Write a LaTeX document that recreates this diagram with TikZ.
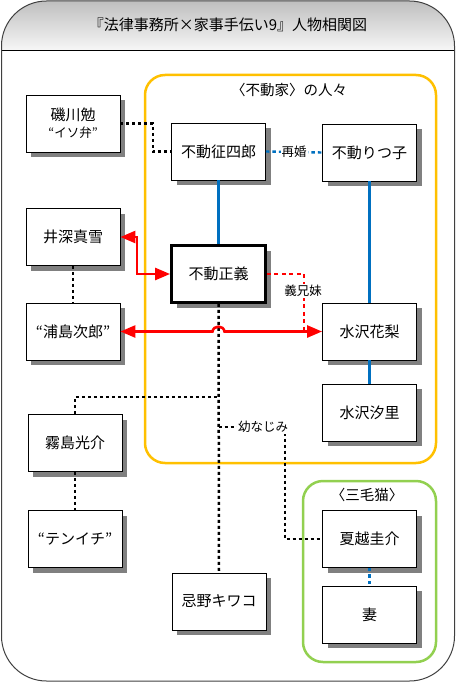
\documentclass[tikz,border=0pt]{standalone}
\usepackage{fontspec}
\setmainfont{Noto Sans CJK JP}
\usetikzlibrary{shadows,arrows.meta}
\definecolor{fgold}{RGB}{255,192,0}
\definecolor{mgreen}{RGB}{146,208,80}
\definecolor{kblue}{RGB}{0,112,192}
\definecolor{frm}{RGB}{64,64,64}
\tikzset{
  person/.style={draw=black, line width=0.8pt, fill=white, minimum width=94pt, minimum height=57pt, inner sep=0pt, align=center,
    font=\fontsize{15}{18}\selectfont,
    drop shadow={shadow xshift=5pt, shadow yshift=-5pt, fill=black!50, opacity=1}},
  mainperson/.style={person, line width=2.8pt},
  grp/.style={rounded corners=20pt, line width=2.5pt},
  blk/.style={draw=black, line width=2.5pt, dash pattern=on 3pt off 3pt},
  bluedot/.style={draw=kblue, line width=2.4pt, dash pattern=on 3.5pt off 3pt},
  bluesolid/.style={draw=kblue, line width=2.4pt},
  redline/.style={draw=red, line width=2.6pt, {Triangle[length=15pt,width=12pt]}-{Triangle[length=15pt,width=12pt]}},
  reddash/.style={draw=red, line width=2.4pt, dash pattern=on 4pt off 3.5pt},
  lbl/.style={fill=white, inner sep=1pt, font=\fontsize{12.5}{14}\selectfont},
  grplbl/.style={inner sep=0pt, font=\fontsize{14.5}{16}\selectfont},
}
\begin{document}
\begin{tikzpicture}[x=1pt,y=-1pt]
\useasboundingbox (0,0) rectangle (456,682);
% outer frame with title band
\begin{scope}
  \clip[rounded corners=45pt] (1.5,1) rectangle (454.5,681);
  \shade[top color={rgb,255:red,190;green,190;blue,190}, bottom color={rgb,255:red,246;green,246;blue,246}] (0,0) rectangle (456,50);
\end{scope}
\draw[black, line width=0.9pt] (1.5,50) -- (454.5,50);
\draw[frm, line width=1pt, rounded corners=45pt] (1.5,1) rectangle (454.5,681);
\node[font=\fontsize{15}{18}\selectfont, inner sep=0pt] (title) at (228,25) {『法律事務所×家事手伝い9』人物相関図};
% groups
\draw[grp, fgold] (145,75) rectangle (436,463);
\node[grplbl] (fudoke) at (289,90) {〈不動家〉の人々};
\draw[grp, mgreen] (303,481) rectangle (436,662);
\node[grplbl] (mikeneko) at (367,495) {〈三毛猫〉};
% nodes
\node[person] (isokawa) at (73,123.5) {磯川勉\\[-1pt]{\fontsize{12.5}{14}\selectfont “イソ弁”}};
\node[person] (seishiro) at (218.5,151.5) {不動征四郎};
\node[person] (ritsuko) at (369.5,152.5) {不動りつ子};
\node[person] (ibuka) at (73,237) {井深真雪};
\node[mainperson] (masayoshi) at (218.5,274) {不動正義};
\node[person] (urashima) at (73,331.5) {“浦島次郎”};
\node[person] (karin) at (369.5,331.5) {水沢花梨};
\node[person] (shiori) at (369.5,412.5) {水沢汐里};
\node[person] (kirishima) at (75,443) {霧島光介};
\node[person] (tenichi) at (75,539) {“テンイチ”};
\node[person] (kiwako) at (219,601.5) {忌野キワコ};
\node[person] (natsukoshi) at (369.5,539) {夏越圭介};
\node[person] (tsuma) at (369.5,614.5) {妻};
% connectors
\draw[blk] (isokawa.east) -- (153,123.5) |- (seishiro.west);
\draw[bluedot] (seishiro.east) -- (ritsuko.west) node[midway, lbl] (saikon) {再婚};
\draw[bluesolid] (seishiro.south) -- (masayoshi.north);
\draw[bluesolid] (ritsuko.south) -- (karin.north);
\draw[bluesolid] (karin.south) -- (shiori.north);
\draw[blk] (ibuka.south) -- (urashima.north);
\draw[blk] (masayoshi.south) -- (kiwako.north);
\coordinate (j1) at (218.5,397);
\coordinate (j2) at (218.5,427);
\draw[blk] (kirishima.north) |- (j1);
\draw[blk] (j2) -- (285,427) |- (natsukoshi.west);
\node[lbl] (osana) at (263,427) {幼なじみ};
\draw[blk] (kirishima.south) -- (tenichi.north);
\draw[bluedot] (natsukoshi.south) -- (tsuma.north);
\draw[reddash] (masayoshi.east) -- (304,274) -- (304,331.5);
\node[lbl] (gikyomai) at (303,291) {義兄妹};
\draw[redline] (ibuka.east) -- (137,237) |- (masayoshi.west);
\draw[redline] (urashima.east) -- (212.5,331.5) .. controls (213.5,325) and (223.5,325) .. (224.5,331.5) -- (karin.west);
\end{tikzpicture}
\end{document}
